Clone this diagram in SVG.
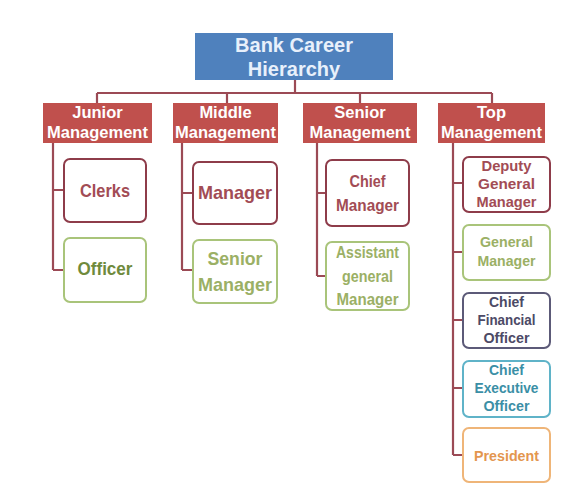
<svg xmlns="http://www.w3.org/2000/svg" width="562" height="493" viewBox="0 0 562 493">
<style>
text{font-family:"Liberation Sans",Arial,sans-serif;font-weight:bold;text-anchor:middle}
.conn{fill:none;stroke:#9b4a55;stroke-width:2.2}
.title rect{fill:#4f81bd}
.title text{fill:#e8f0fb;font-size:20px}
.lvl2 rect{fill:#c0504d}
.lvl2 text{fill:#ffffff;font-size:16.5px}
.leaf rect{fill:#ffffff;stroke-width:2;rx:6;ry:6}
.l19 text{font-size:19px}
.l16 text{font-size:16.5px}
.l14 text{font-size:14.5px}
.red rect{stroke:#8e3c4a}
.red text{fill:#a24c55}
.green rect{stroke:#a9c47a}
.green text{fill:#9bb065}
.dgreen text{fill:#6f8a3c}
.navy rect{stroke:#5c5a78}
.navy text{fill:#4c4a66}
.teal rect{stroke:#5fb3c8}
.teal text{fill:#3b8fa6}
.orange rect{stroke:#efb578}
.orange text{fill:#e3964f}
</style>
<g id="connectors" class="conn">
<path d="M295 80V93M97 93H492M97 93V103M227 93V103M360 93V103M492 93V103"/>
<path d="M53 143V270M53 190H64M53 270H64"/>
<path d="M182 143V270M182 193H193M182 270H193"/>
<path d="M317 143V276M317 193H326M317 276H326"/>
<path d="M453 143V455M453 183H463M453 252H463M453 320H463M453 388H463M453 455H463"/>
</g>
<g id="title" class="title">
<rect x="195" y="33" width="198" height="47"/>
<text x="294" y="52">Bank Career</text>
<text x="294" y="76">Hierarchy</text>
</g>
<g id="junior" class="lvl2">
<rect x="43" y="103" width="109" height="40"/>
<text x="97.5" y="118">Junior</text>
<text x="97.5" y="138">Management</text>
</g>
<g id="middle" class="lvl2">
<rect x="173" y="103" width="105" height="40"/>
<text x="225.5" y="118">Middle</text>
<text x="225.5" y="138">Management</text>
</g>
<g id="senior" class="lvl2">
<rect x="303" y="103" width="114" height="40"/>
<text x="360" y="118">Senior</text>
<text x="360" y="138">Management</text>
</g>
<g id="top" class="lvl2">
<rect x="438" y="103" width="107" height="40"/>
<text x="491.5" y="118">Top</text>
<text x="491.5" y="138">Management</text>
</g>
<g id="clerks" class="leaf red l19">
<rect x="64" y="159" width="82" height="63"/>
<text x="105" y="197" textLength="50" lengthAdjust="spacingAndGlyphs">Clerks</text>
</g>
<g id="officer" class="leaf green dgreen l19">
<rect x="64" y="238" width="82" height="64"/>
<text x="105" y="275" textLength="55" lengthAdjust="spacingAndGlyphs">Officer</text>
</g>
<g id="manager" class="leaf red l19">
<rect x="193" y="162" width="84" height="62"/>
<text x="235" y="199" textLength="74" lengthAdjust="spacingAndGlyphs">Manager</text>
</g>
<g id="senior-manager" class="leaf green l19">
<rect x="193" y="240" width="84" height="63"/>
<text x="235" y="265" textLength="55" lengthAdjust="spacingAndGlyphs">Senior</text>
<text x="235" y="291" textLength="74" lengthAdjust="spacingAndGlyphs">Manager</text>
</g>
<g id="chief-manager" class="leaf red l16">
<rect x="326" y="160" width="83" height="66"/>
<text x="367.5" y="187" textLength="36" lengthAdjust="spacingAndGlyphs">Chief</text>
<text x="367.5" y="211" textLength="63" lengthAdjust="spacingAndGlyphs">Manager</text>
</g>
<g id="agm" class="leaf green l16">
<rect x="326" y="242" width="83" height="68"/>
<text x="367.5" y="258" textLength="63" lengthAdjust="spacingAndGlyphs">Assistant</text>
<text x="367.5" y="282" textLength="51" lengthAdjust="spacingAndGlyphs">general</text>
<text x="367.5" y="305" textLength="62" lengthAdjust="spacingAndGlyphs">Manager</text>
</g>
<g id="dgm" class="leaf red l14">
<rect x="463" y="157" width="87" height="55"/>
<text x="506.5" y="171" textLength="50" lengthAdjust="spacingAndGlyphs">Deputy</text>
<text x="506.5" y="189" textLength="57" lengthAdjust="spacingAndGlyphs">General</text>
<text x="506.5" y="207" textLength="60" lengthAdjust="spacingAndGlyphs">Manager</text>
</g>
<g id="gm" class="leaf green l14">
<rect x="463" y="225" width="87" height="55"/>
<text x="506.5" y="247" textLength="53" lengthAdjust="spacingAndGlyphs">General</text>
<text x="506.5" y="266" textLength="58" lengthAdjust="spacingAndGlyphs">Manager</text>
</g>
<g id="cfo" class="leaf navy l14">
<rect x="463" y="293" width="87" height="55"/>
<text x="506.5" y="307" textLength="35" lengthAdjust="spacingAndGlyphs">Chief</text>
<text x="506.5" y="325" textLength="58" lengthAdjust="spacingAndGlyphs">Financial</text>
<text x="506.5" y="343" textLength="46" lengthAdjust="spacingAndGlyphs">Officer</text>
</g>
<g id="ceo" class="leaf teal l14">
<rect x="463" y="361" width="87" height="56"/>
<text x="506.5" y="375" textLength="35" lengthAdjust="spacingAndGlyphs">Chief</text>
<text x="506.5" y="393" textLength="64" lengthAdjust="spacingAndGlyphs">Executive</text>
<text x="506.5" y="411" textLength="46" lengthAdjust="spacingAndGlyphs">Officer</text>
</g>
<g id="president" class="leaf orange l14">
<rect x="463" y="428" width="87" height="54"/>
<text x="506.5" y="461" textLength="65" lengthAdjust="spacingAndGlyphs">President</text>
</g>
</svg>
